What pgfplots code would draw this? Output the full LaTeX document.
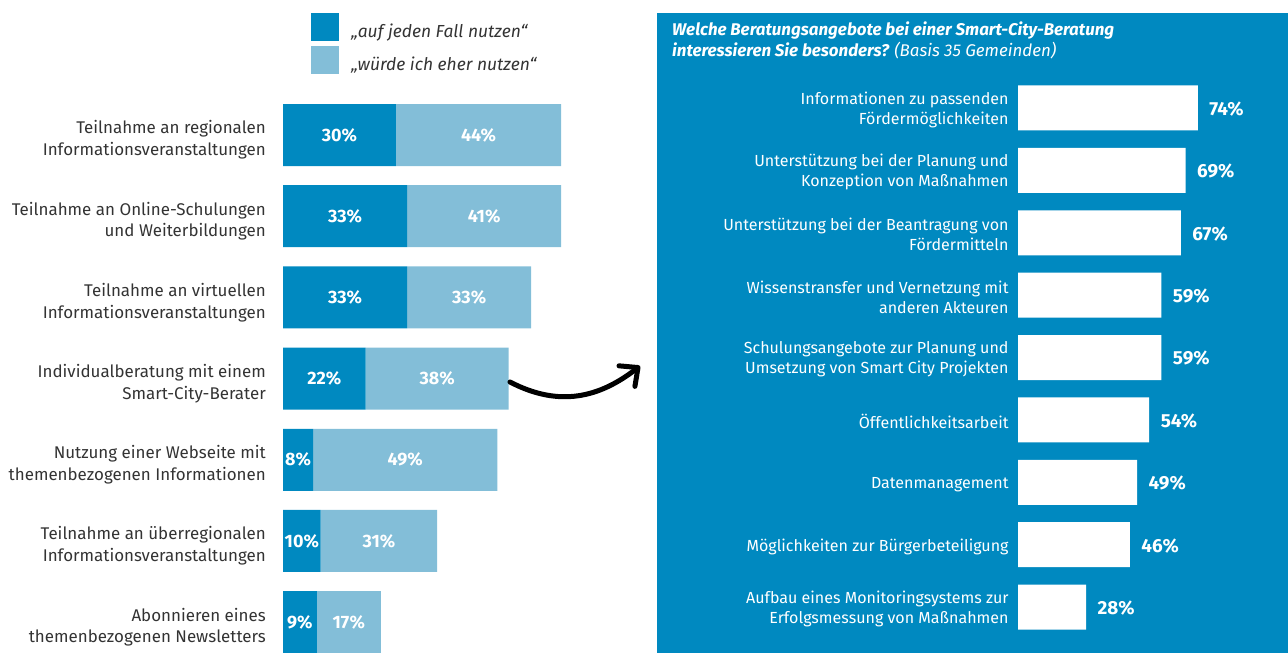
\documentclass[border=0pt]{standalone}
\usepackage{pgfplots}
\pgfplotsset{compat=1.18}
\usepackage{pgfplotstable}
\usepackage{fontspec}
\setmainfont{Fira Sans}
\usetikzlibrary{arrows.meta}
\definecolor{dblue}{RGB}{0,137,192}
\definecolor{lblue}{RGB}{131,190,216}
\definecolor{txt}{RGB}{51,51,51}

\pgfplotstableread{
y a b
0 30 44
1 33 41
2 33 33
3 22 38
4 8 49
5 10 31
6 9 17
}\lefttab

\pgfplotstableread{
y v
0 74
1 69
2 67
3 59
4 59
5 54
6 49
7 46
8 28
}\righttab

\pgfplotsset{
  /pgf/number format/assume math mode=true,
  leftgeom/.style={
    at={(283bp,-94.4bp)}, anchor=north west,
    scale only axis, width=376bp, height=558.6bp,
    xmin=0, xmax=100, ymin=-0.5, ymax=6.38,
    y dir=reverse, clip=true,
  },
}

\begin{document}
\begin{tikzpicture}[x=1bp,y=-1bp]
\path[use as bounding box] (0,0) rectangle (1288,653);
\fill[dblue] (657,13) rectangle (1288,653);

% left stacked bars
\begin{axis}[leftgeom,
  xbar stacked, bar width=62bp,
  axis line style={draw=none}, tick style={draw=none},
  xtick=\empty,
  ytick={0,...,6},
  yticklabels={{Teilnahme an regionalen\\Informationsveranstaltungen},
               {Teilnahme an Online-Schulungen\\und Weiterbildungen},
               {Teilnahme an virtuellen\\Informationsveranstaltungen},
               {Individualberatung mit einem\\Smart-City-Berater},
               {Nutzung einer Webseite mit\\themenbezogenen Informationen},
               {Teilnahme an überregionalen\\Informationsveranstaltungen},
               {Abonnieren eines\\themenbezogenen Newsletters}},
  yticklabel style={align=right, anchor=east, inner sep=0pt, xshift=-17bp,
    yshift=-5bp, text=txt, font=\fontsize{17}{22}\selectfont},
  legend style={at={(axis description cs:0.0745,1.1457)}, anchor=north west,
    draw=none, fill=none, inner sep=0pt, outer sep=0pt, row sep=5bp,
    font=\itshape\fontsize{17.5}{20}\selectfont, text=txt,
    cells={anchor=west}},
  legend image code/.code={\path[#1,draw=none] (0bp,-10bp) rectangle (28bp,18bp);},
]
\addplot[fill=dblue, draw=none] table[x=a, y=y] {\lefttab};
\addlegendentry{\hspace{10bp}„auf jeden Fall nutzen“}
\addplot[fill=lblue, draw=none] table[x=b, y=y] {\lefttab};
\addlegendentry{\hspace{10bp}„würde ich eher nutzen“}
\end{axis}

% centred value labels for the left bars
\begin{axis}[leftgeom, hide axis,
  nodes near coords={\pgfmathprintnumber{\pgfplotspointmeta}\%},
  every node near coord/.append style={anchor=center, text=white,
    font=\bfseries\fontsize{18}{20}\selectfont},
]
\addplot[draw=none, mark=none, point meta=explicit]
  table[x expr=\thisrow{a}/2, y=y, meta=a] {\lefttab};
\addplot[draw=none, mark=none, point meta=explicit]
  table[x expr=\thisrow{a}+\thisrow{b}/2, y=y, meta=b] {\lefttab};
\end{axis}

% right panel title
\node[anchor=north west, align=left, text=white, inner sep=0pt,
  font=\bfseries\itshape\fontsize{17}{20.5}\selectfont] at (672,22)
  {Welche Beratungsangebote bei einer Smart-City-Beratung\\
   interessieren Sie besonders? {\mdseries(Basis 35 Gemeinden)}};

% right bars
\begin{axis}[
  at={(1018bp,-76.8bp)}, anchor=north west,
  scale only axis, width=243bp, height=561.4bp,
  xmin=0, xmax=100, ymin=-0.5, ymax=8.5,
  y dir=reverse, clip=false,
  xbar, bar width=45bp,
  axis line style={draw=none}, tick style={draw=none},
  xtick=\empty,
  ytick={0,...,8},
  yticklabels={{Informationen zu passenden\\Fördermöglichkeiten},
               {Unterstützung bei der Planung und\\Konzeption von Maßnahmen},
               {Unterstützung bei der Beantragung von\\Fördermitteln},
               {Wissenstransfer und Vernetzung mit\\anderen Akteuren},
               {Schulungsangebote zur Planung und\\Umsetzung von Smart City Projekten},
               {Öffentlichkeitsarbeit},
               {Datenmanagement},
               {Möglichkeiten zur Bürgerbeteiligung},
               {Aufbau eines Monitoringsystems zur\\Erfolgsmessung von Maßnahmen}},
  yticklabel style={align=right, anchor=east, inner sep=0pt, xshift=-5bp,
    yshift=-2bp, text=white, font=\fontsize{16.1}{20}\selectfont},
  nodes near coords={\pgfmathprintnumber{\pgfplotspointmeta}\%},
  every node near coord/.append style={anchor=west, text=white, xshift=8bp,
    yshift=-1bp, font=\bfseries\fontsize{19}{20}\selectfont},
]
\addplot[fill=white, draw=none] table[x=v, y=y] {\righttab};
\end{axis}

% arrow
\draw[line width=5bp, line cap=round, line join=round,
  -{Straight Barb[length=14bp,width=26bp,round]}]
  (510,382) .. controls (560,408) and (600,397) .. (640,366);
\end{tikzpicture}
\end{document}
